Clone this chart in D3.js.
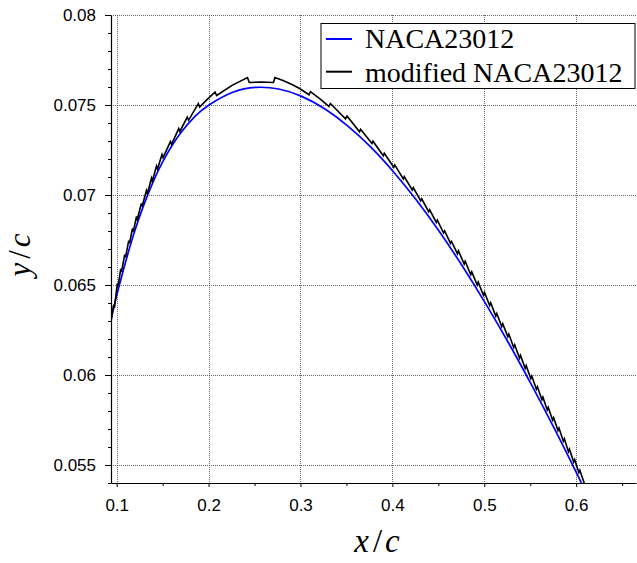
<!DOCTYPE html>
<html><head><meta charset="utf-8">
<script src="https://cdn.jsdelivr.net/npm/d3@7"></script>
<style>body{margin:0;background:#fff}</style>
</head><body>
<svg id="c" width="637" height="563"></svg>
<script>
const xMajor=[0.1,0.2,0.3,0.4,0.5,0.6];
const xLabels=["0.1","0.2","0.3","0.4","0.5","0.6"];
const xMinor=[0.15,0.25,0.35,0.45,0.55,0.65];
const yMajor=[0.055,0.06,0.065,0.07,0.075,0.08];
const yLabels=["0.055","0.06","0.065","0.07","0.075","0.08"];
const yMinor=[0.054,0.056,0.057,0.058,0.059,0.061,0.062,0.063,0.064,0.066,0.067,0.068,0.069,0.071,0.072,0.073,0.074,0.076,0.077,0.078,0.079];
const seriesNames=["NACA23012","modified NACA23012"];
const seriesColors=["#0000ff","#000000"];

const blueX=[0.0865,0.0905,0.0971,0.1078,0.1184,0.1290,0.1395,0.1500,0.1604,0.1708,0.1860,0.2013,0.2263,0.2513,0.2763,0.3013,0.3263,0.3513,0.3763,0.4013,0.4263,0.4513,0.4763,0.5013,0.5263,0.5513,0.5763,0.6013,0.6213];
const blueY=[0.06122,0.06222,0.06381,0.06593,0.06780,0.06938,0.07072,0.07184,0.07276,0.07353,0.07441,0.07503,0.07571,0.07598,0.07589,0.07548,0.07479,0.07384,0.07267,0.07128,0.06971,0.06796,0.06604,0.06398,0.06179,0.05946,0.05702,0.05447,0.05235];

const blackX=[0.0938,0.0966,0.0975,0.1007,0.1015,0.1044,0.1052,0.1087,0.1096,0.1131,0.1139,0.1172,0.1181,0.1215,0.1224,0.1268,0.1276,0.1324,0.1334,0.1379,0.1388,0.1433,0.1444,0.1493,0.1504,0.1585,0.1597,0.1675,0.1687,0.1768,0.1782,0.1888,0.1902,0.1988,0.2070,0.2087,0.2255,0.2423,0.2443,0.2570,0.2706,0.2722,
0.2810,0.2907,0.2995,0.3092,0.3109,0.3212,0.3310,0.3326,0.3490,0.3506,0.3643,0.3654,0.3778,0.3789,0.3901,0.3912,0.4015,0.4026,0.4119,0.4129,0.4216,0.4227,0.4308,0.4319,0.4395,0.4406,0.4478,0.4489,0.4557,0.4568,0.4633,0.4644,0.4708,0.4719,0.4781,0.4792,0.4853,0.4864,0.4923,0.4934,0.4991,0.5002,0.5059,0.5070,0.5125,0.5136,0.5190,0.5201,0.5256,0.5267,0.5320,0.5331,0.5383,0.5394,0.5445,0.5456,0.5506,0.5517,0.5567,0.5578,0.5627,0.5638,0.5685,0.5696,0.5744,0.5755,0.5802,0.5813,0.5860,0.5871,0.5916,0.5927,0.5973,0.5984,0.6029,0.6040,0.6095];
const blackY=[0.06296,0.06389,0.06372,0.06509,0.06493,0.06589,0.06572,0.06669,0.06653,0.06747,0.06731,0.06814,0.06797,0.06881,0.06864,0.06953,0.06936,0.07025,0.07008,0.07094,0.07078,0.07161,0.07144,0.07225,0.07208,0.07297,0.07281,0.07369,0.07353,0.07433,0.07415,0.07508,0.07489,0.07533,0.07572,0.07553,0.07609,0.07652,0.07625,0.07628,0.07625,0.07653,
0.07636,0.07614,0.07590,0.07557,0.07574,0.07534,0.07492,0.07508,0.07423,0.07439,0.07351,0.07365,0.07286,0.07299,0.07218,0.07232,0.07154,0.07167,0.07089,0.07102,0.07028,0.07041,0.06968,0.06979,0.06907,0.06918,0.06848,0.06860,0.06789,0.06801,0.06731,0.06742,0.06673,0.06690,0.06616,0.06632,0.06557,0.06573,0.06500,0.06516,0.06443,0.06459,0.06386,0.06401,0.06327,0.06342,0.06269,0.06285,0.06213,0.06228,0.06153,0.06168,0.06094,0.06109,0.06037,0.06052,0.05980,0.05994,0.05921,0.05935,0.05863,0.05877,0.05806,0.05820,0.05749,0.05763,0.05691,0.05705,0.05632,0.05646,0.05574,0.05588,0.05516,0.05530,0.05458,0.05471,0.05388];

const W=637,H=563;
const L=111,R=636,T=15,B=483;
const svg=d3.select("#c");
svg.append("rect").attr("width",W).attr("height",H).attr("fill","#fff");

const x=d3.scaleLinear().domain([0.0938,0.6651]).range([L,R]);
const y=d3.scaleLinear().domain([0.054,0.08]).range([B,T]);

svg.append("defs").append("clipPath").attr("id","clip")
  .append("rect").attr("x",L).attr("y",T).attr("width",R-L).attr("height",B-T);

// grid
const grid=svg.append("g").attr("stroke","#333").attr("stroke-opacity",0.75)
  .attr("stroke-width",1).attr("stroke-dasharray","1,1");
grid.selectAll("line.gx").data(xMajor).join("line").attr("class","gx")
  .attr("x1",d=>Math.round(x(d))+0.5).attr("x2",d=>Math.round(x(d))+0.5)
  .attr("y1",T).attr("y2",B);
grid.selectAll("line.gy").data(yMajor).join("line").attr("class","gy")
  .attr("y1",d=>Math.round(y(d))+0.5).attr("y2",d=>Math.round(y(d))+0.5)
  .attr("x1",L).attr("x2",R);

// curves
const blueData=blueX.map((v,i)=>[v,blueY[i]]);
const blackData=blackX.map((v,i)=>[v,blackY[i]]);
const plot=svg.append("g").attr("clip-path","url(#clip)");
plot.append("path").datum(blueData)
  .attr("fill","none").attr("stroke",seriesColors[0]).attr("stroke-width",1.7)
  .attr("d",d3.line().x(d=>x(d[0])).y(d=>y(d[1])).curve(d3.curveNatural));
plot.append("path").datum(blackData)
  .attr("fill","none").attr("stroke",seriesColors[1]).attr("stroke-width",1.6)
  .attr("stroke-linejoin","miter")
  .attr("d",d3.line().x(d=>x(d[0])).y(d=>y(d[1])));

// axes
const fontTick="'Liberation Sans', Arial, Helvetica, sans-serif";
const xAxis=svg.append("g").attr("transform",`translate(0,${B})`)
  .call(d3.axisBottom(x).tickValues(xMajor).tickFormat((d,i)=>xLabels[i])
    .tickSizeInner(4).tickSizeOuter(0).tickPadding(11.5));
const xAxisMinor=svg.append("g").attr("transform",`translate(0,${B})`)
  .call(d3.axisBottom(x).tickValues(xMinor).tickFormat("").tickSizeInner(3).tickSizeOuter(0));
xAxisMinor.select(".domain").remove();
const yAxis=svg.append("g").attr("transform",`translate(${L},0)`)
  .call(d3.axisLeft(y).tickValues(yMajor).tickFormat((d,i)=>yLabels[i])
    .tickSizeInner(6).tickSizeOuter(0).tickPadding(9));
const yAxisMinor=svg.append("g").attr("transform",`translate(${L},0)`)
  .call(d3.axisLeft(y).tickValues(yMinor).tickFormat("").tickSizeInner(3).tickSizeOuter(0));
yAxisMinor.select(".domain").remove();
[xAxis,yAxis].forEach(a=>{
  a.selectAll("text").attr("font-family",fontTick).attr("font-size",17).attr("fill","#000");
  a.select(".domain").attr("stroke","#000").attr("stroke-width",1.2);
});
svg.selectAll(".tick line").attr("stroke","#000").attr("stroke-width",1);

// axis titles
const serif="'Liberation Serif','Times New Roman',serif";
const xt=svg.append("text").attr("x",377).attr("y",552).attr("text-anchor","middle")
  .attr("font-family",serif).attr("font-size",33).attr("fill","#000");
xt.append("tspan").attr("font-style","italic").text("x");
xt.append("tspan").attr("dx",4).text("/");
xt.append("tspan").attr("dx",3).attr("font-style","italic").text("c");
const yt=svg.append("text").attr("transform","translate(30,255) rotate(-90)").attr("text-anchor","middle")
  .attr("font-family",serif).attr("font-size",31).attr("fill","#000");
yt.append("tspan").attr("font-style","italic").text("y");
yt.append("tspan").attr("dx",4).text("/");
yt.append("tspan").attr("dx",3).attr("font-style","italic").text("c");

// legend
const lg=svg.append("g");
lg.append("rect").attr("x",321).attr("y",23.5).attr("width",314).attr("height",65)
  .attr("fill","#fff").attr("stroke","#000").attr("stroke-width",1);
const rowsY=[39,71.7];
const textY=[48.3,81.7];
seriesNames.forEach((n,i)=>{
  lg.append("line").attr("x1",326).attr("x2",352).attr("y1",rowsY[i]).attr("y2",rowsY[i])
    .attr("stroke",seriesColors[i]).attr("stroke-width",2);
  lg.append("text").attr("x",365).attr("y",textY[i]).attr("font-family",serif)
    .attr("font-size",28).attr("fill","#000").text(n);
});
</script>
</body></html>
